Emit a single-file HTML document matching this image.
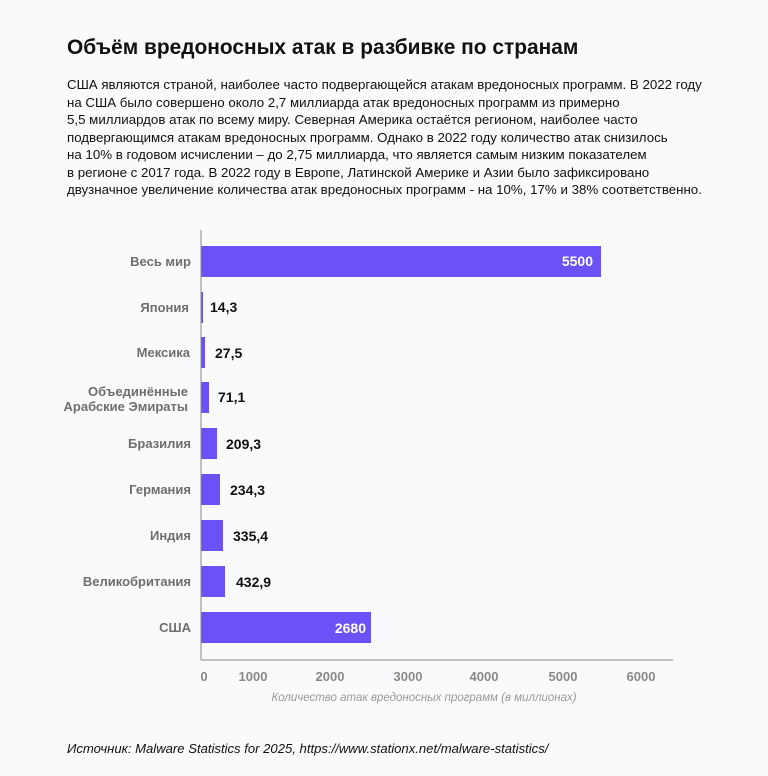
<!DOCTYPE html>
<html><head><meta charset="utf-8"><style>
body{margin:0;width:768px;height:776px;background:#f8fafc;font-family:"Liberation Sans",sans-serif;position:relative;overflow:hidden}
h1{position:absolute;left:67px;top:36px;margin:0;font-size:20.9px;font-weight:bold;color:#111}
p.d{position:absolute;left:67px;top:76px;margin:0;width:700px;font-size:13.3px;line-height:17.5px;color:#111;white-space:nowrap}
.src{position:absolute;left:67px;top:741px;font-size:13.1px;font-style:italic;color:#111}
</style></head><body>
<h1>Объём вредоносных атак в разбивке по странам</h1>
<p class="d">США являются страной, наиболее часто подвергающейся атакам вредоносных программ. В 2022 году<br>на США было совершено около 2,7 миллиарда атак вредоносных программ из примерно<br>5,5 миллиардов атак по всему миру. Северная Америка остаётся регионом, наиболее часто<br>подвергающимся атакам вредоносных программ. Однако в 2022 году количество атак снизилось<br>на 10% в годовом исчислении – до 2,75 миллиарда, что является самым низким показателем<br>в регионе с 2017 года. В 2022 году в Европе, Латинской Америке и Азии было зафиксировано<br>двузначное увеличение количества атак вредоносных программ - на 10%, 17% и 38% соответственно.</p>
<svg width="768" height="776" style="position:absolute;left:0;top:0" font-family="Liberation Sans, sans-serif">
<g fill="#6b52f7">
<rect x="201" y="246" width="400" height="31"/>
<rect x="201" y="292" width="2" height="31"/>
<rect x="201" y="337" width="4" height="31"/>
<rect x="201" y="382" width="8" height="31"/>
<rect x="201" y="428" width="16" height="31"/>
<rect x="201" y="474" width="19" height="31"/>
<rect x="201" y="520" width="22" height="31"/>
<rect x="201" y="566" width="24" height="31"/>
<rect x="201" y="612" width="170" height="31"/>
</g>
<line x1="201" y1="230" x2="201" y2="660" stroke="#888" stroke-width="1"/>
<line x1="201" y1="660" x2="673" y2="660" stroke="#888" stroke-width="1"/>
<g font-size="13" fill="#6e6e6e" text-anchor="end" font-weight="bold">
<text x="191" y="266">Весь мир</text>
<text x="189" y="312">Япония</text>
<text x="190" y="357">Мексика</text>
<text x="188" y="396">Объединённые</text>
<text x="188" y="411">Арабские Эмираты</text>
<text x="191" y="448">Бразилия</text>
<text x="191" y="494">Германия</text>
<text x="191" y="540">Индия</text>
<text x="191" y="586">Великобритания</text>
<text x="191" y="632">США</text>
</g>
<g font-size="14" font-weight="bold" fill="#111">
<text x="210" y="312">14,3</text>
<text x="215" y="358">27,5</text>
<text x="218" y="402">71,1</text>
<text x="226" y="449">209,3</text>
<text x="230" y="495">234,3</text>
<text x="233" y="541">335,4</text>
<text x="236" y="587">432,9</text>
</g>
<g font-size="14" font-weight="bold" fill="#fff" text-anchor="end">
<text x="593" y="266">5500</text>
<text x="366" y="633">2680</text>
</g>
<g font-size="13" fill="#888" text-anchor="middle" font-weight="bold">
<text x="204" y="681">0</text>
<text x="253" y="681">1000</text>
<text x="330" y="681">2000</text>
<text x="408" y="681">3000</text>
<text x="484" y="681">4000</text>
<text x="563" y="681">5000</text>
<text x="641" y="681">6000</text>
</g>
<text x="424" y="701" font-size="11.5" font-style="italic" fill="#999" text-anchor="middle">Количество атак вредоносных программ (в миллионах)</text>
</svg>
<div class="src">Источник: Malware Statistics for 2025, https://www.stationx.net/malware-statistics/</div>
</body></html>
